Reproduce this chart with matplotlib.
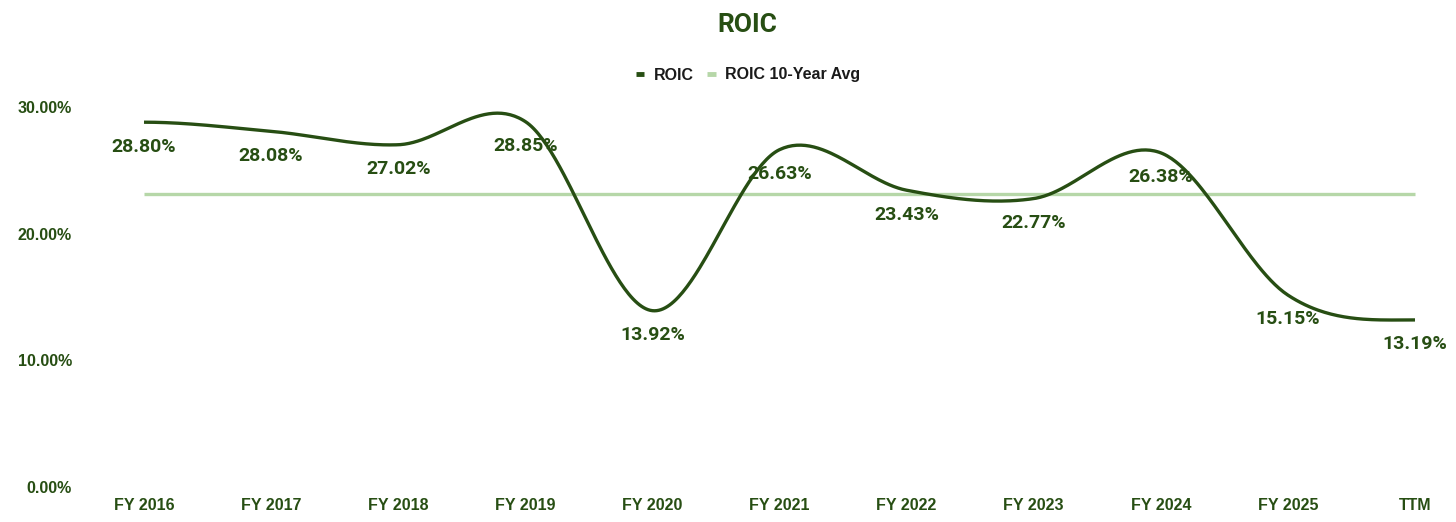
import matplotlib
matplotlib.use("Agg")
import matplotlib.pyplot as plt
import numpy as np

years = ['FY 2016', 'FY 2017', 'FY 2018', 'FY 2019', 'FY 2020', 'FY 2021',
         'FY 2022', 'FY 2023', 'FY 2024', 'FY 2025', 'TTM']
roic = [28.80, 28.08, 27.02, 28.85, 13.92, 26.63, 23.43, 22.77, 26.38, 15.15, 13.19]
roic_avg = 23.11
yticks = [0, 10, 20, 30]

dark = '#274e13'
light = '#b6d7a8'


def smooth(y, n=60):
    # catmull-rom style curve through every point, flat at both ends
    y = np.asarray(y, dtype=float)
    m = np.zeros_like(y)
    m[1:-1] = (y[2:] - y[:-2]) / 2
    xs, ys = [], []
    for i in range(len(y) - 1):
        t = np.linspace(0, 1, n)
        h00 = 2 * t**3 - 3 * t**2 + 1
        h10 = t**3 - 2 * t**2 + t
        h01 = -2 * t**3 + 3 * t**2
        h11 = t**3 - t**2
        xs.append(i + t)
        ys.append(h00 * y[i] + h10 * m[i] + h01 * y[i + 1] + h11 * m[i + 1])
    return np.concatenate(xs), np.concatenate(ys)


fig = plt.figure(figsize=(14.56, 5.22), dpi=100)
ax = fig.add_axes([144 / 1456, 35 / 522, (1415 - 144) / 1456, 380 / 522])

x = np.arange(len(years))
sx, sy = smooth(roic)
ax.plot(sx, sy, color=dark, lw=2.4, clip_on=False, label='ROIC', zorder=3,
        solid_capstyle='butt')
ax.plot([x[0], x[-1]], [roic_avg, roic_avg], color=light, lw=2.4, clip_on=False,
        label='ROIC 10-Year Avg', zorder=2, solid_capstyle='butt')

for xi, v in zip(x, roic):
    ax.annotate(f'{v:.2f}%', (xi, v), xytext=(0, -17.5), textcoords='offset points',
                ha='center', va='center', fontsize=14, fontweight='bold',
                family='Roboto', color=dark)

ax.set_xlim(0, len(years) - 1)
ax.set_ylim(0, 30)
ax.set_xticks(x)
ax.set_xticklabels(years)
ax.set_yticks(yticks)
ax.set_yticklabels([f'{t:.2f}%' for t in yticks])
for lab in ax.get_xticklabels() + ax.get_yticklabels():
    lab.set_family('Liberation Sans')
    lab.set_fontweight('bold')
    lab.set_fontsize(11.5)
    lab.set_color(dark)
ax.tick_params(axis='both', length=0)
ax.tick_params(axis='x', pad=8)
ax.tick_params(axis='y', pad=52)
for s in ax.spines.values():
    s.set_visible(False)

fig.text(747 / 1456, 1 - 25 / 522, 'ROIC', ha='center', va='center', fontsize=19,
         fontweight='bold', family='Roboto', color=dark)

leg = fig.legend(loc='center', bbox_to_anchor=(748 / 1456, 1 - 75 / 522), ncol=2,
                 frameon=False, handlelength=0.55, handletextpad=0.6, columnspacing=0.8,
                 prop={'family': 'Liberation Sans', 'weight': 'bold', 'size': 11.5})
for h in leg.get_lines():
    h.set_linewidth(3.5)
for t in leg.get_texts():
    t.set_color('#1a1a1a')

fig.savefig('out.png', dpi=100)
